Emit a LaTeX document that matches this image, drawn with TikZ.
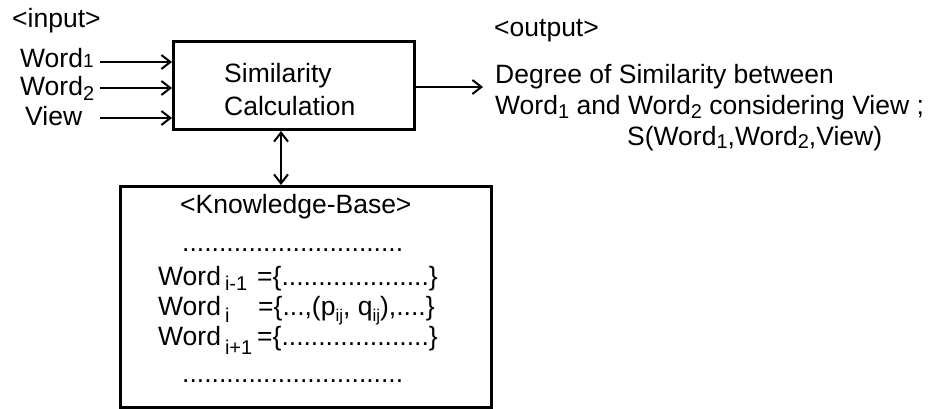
\documentclass[tikz,border=0pt]{standalone}
\usepackage{fontspec}
\setmainfont{Liberation Sans}
\usetikzlibrary{arrows.meta}
\newcommand\lowsub[2]{\raisebox{-#1pt}{\fontsize{20}{20}\selectfont #2}}
\newcommand\tinysub[1]{\raisebox{-6pt}{\fontsize{17}{17}\selectfont #1}}
\begin{document}
\begin{tikzpicture}[x=1pt,y=-1pt,
  >={Straight Barb[length=9pt,width=14pt,line width=2pt]},
  lbl/.style={anchor=base west, inner sep=0pt, font=\fontsize{26.5}{30}\selectfont},
  conn/.style={line width=2.6pt, ->},
  dconn/.style={line width=2.6pt, <->},
  box/.style={draw, line width=3pt, inner sep=0pt}]
\useasboundingbox (0,0) rectangle (939,409);
% boxes
\node[box, minimum width=241pt, minimum height=88pt, anchor=north west] (sim) at (172,40) {};
\node[box, minimum width=371pt, minimum height=221pt, anchor=north west] (kb) at (119,185) {};
% similarity box text
\node[lbl] (simt1) at (224,83) {Similarity};
\node[lbl] (simt2) at (224,116) {Calculation};
% inputs
\node[lbl] (inp) at (12,28) {<input>};
\node[lbl] (w1) at (20,68) {Word{\fontsize{19}{19}\selectfont 1}};
\node[lbl] (w2) at (20,96) {Word\lowsub{5}{2}};
\node[lbl] (view) at (25,126) {View};
\coordinate (s1) at (100,62);
\coordinate (s2) at (100,88);
\coordinate (s3) at (100,118);
\draw[conn] (s1) -- (s1 -| sim.west);
\draw[conn] (s2) -- (s2 -| sim.west);
\draw[conn] (s3) -- (s3 -| sim.west);
% output
\coordinate (oend) at (483,87);
\draw[conn] (sim.east |- oend) -- (oend);
\node[lbl] (outp) at (494,37) {<output>};
\node[lbl] (deg1) at (495,84) {Degree of Similarity between};
\node[lbl] (deg2) at (495,114) {Word\lowsub{5}{1} and Word\lowsub{5}{2} considering View ;};
\node[lbl] (deg3) at (627,145) {S(Word\lowsub{4}{1},Word\lowsub{4}{2},View)};
% link to knowledge base
\coordinate (kx) at (281,0);
\draw[dconn] (kx |- sim.south) -- (kx |- kb.north);
% knowledge base text
\node[lbl] (kbt) at (180,213) {<Knowledge-Base>};
\node[lbl] (dots1) at (182,251) {..............................};
\node[lbl] (r1) at (158,285) {Word\hspace{4pt}\lowsub{5}{i-1}};
\node[lbl] (r1b) at (257,285) {=\{....................\}};
\node[lbl] (r2) at (158,315) {Word\hspace{4pt}\lowsub{7}{i}};
\node[lbl] (r2b) at (258,315) {=\{...,(p\tinysub{ij}, q\tinysub{ij}),....\}};
\node[lbl] (r3) at (158,345) {Word\hspace{4pt}\lowsub{9}{i+1}};
\node[lbl] (r3b) at (257,345) {=\{....................\}};
\node[lbl] (dots2) at (182,382) {..............................};
\end{tikzpicture}
\end{document}
